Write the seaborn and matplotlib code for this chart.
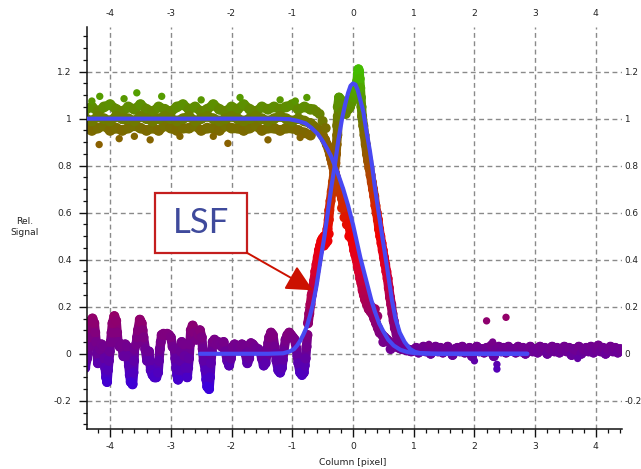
import numpy as np
import matplotlib
matplotlib.use("Agg")
import matplotlib.pyplot as plt
from matplotlib.colors import LinearSegmentedColormap, Normalize
from matplotlib.collections import LineCollection
from matplotlib.patches import Rectangle
from matplotlib.ticker import MultipleLocator
import seaborn as sns

# ---------------------------------------------------------------- data
# edge spread samples: flat plateau (three rows of samples per column position)
esf_flat_x = [-4.40, -4.30, -4.20, -4.10, -4.00, -3.90, -3.80, -3.70, -3.60, -3.50,
              -3.40, -3.30, -3.20, -3.10, -3.00, -2.90, -2.80, -2.70, -2.60, -2.50,
              -2.40, -2.30, -2.20, -2.10, -2.00, -1.90, -1.80, -1.70, -1.60, -1.50,
              -1.40, -1.30, -1.20, -1.10, -1.00, -0.90, -0.80, -0.70]
esf_flat_top = [1.04, 1.05, 1.03, 1.05, 1.06, 1.04, 1.03, 1.05, 1.04, 1.06,
                1.04, 1.03, 1.05, 1.04, 1.03, 1.05, 1.06, 1.04, 1.05, 1.03,
                1.04, 1.06, 1.04, 1.03, 1.05, 1.04, 1.06, 1.04, 1.03, 1.05,
                1.04, 1.05, 1.04, 1.05, 1.06, 1.04, 1.05, 1.04]
esf_flat_mid = [1.00, 0.99, 1.01, 1.00, 0.99, 1.01, 1.00, 1.00, 0.99, 1.01,
                1.00, 0.99, 1.00, 1.01, 1.00, 0.99, 1.00, 1.01, 0.99, 1.00,
                1.01, 1.00, 0.99, 1.00, 1.01, 1.00, 0.99, 1.00, 1.01, 1.00,
                0.99, 1.00, 1.01, 1.00, 0.99, 1.00, 0.99, 0.98]
esf_flat_bot = [0.96, 0.95, 0.96, 0.97, 0.95, 0.96, 0.95, 0.96, 0.97, 0.96,
                0.95, 0.96, 0.95, 0.97, 0.96, 0.95, 0.96, 0.96, 0.97, 0.95,
                0.96, 0.96, 0.95, 0.97, 0.96, 0.96, 0.95, 0.96, 0.97, 0.95,
                0.96, 0.96, 0.95, 0.96, 0.96, 0.95, 0.94, 0.93]

# edge spread samples: falling edge
esf_drop_x = [-0.65, -0.60, -0.55, -0.50, -0.46, -0.43, -0.40,
              -0.38, -0.36, -0.34, -0.32, -0.30, -0.28, -0.26, -0.24, -0.22, -0.20,
              -0.18, -0.16, -0.14, -0.12, -0.10, -0.08, -0.06, -0.04, -0.02, 0.00,
              0.02, 0.04, 0.06, 0.08, 0.10, 0.12, 0.14, 0.16, 0.18, 0.20,
              0.23, 0.26, 0.29, 0.32, 0.35, 0.38, 0.41, 0.44,
              0.48, 0.52, 0.56, 0.60, 0.64, 0.68, 0.72, 0.76, 0.80, 0.84, 0.88, 0.92, 0.96]
esf_drop_y = [0.97, 0.96, 0.95, 0.93, 0.91, 0.89, 0.87,
              0.85, 0.83, 0.81, 0.79, 0.77, 0.75, 0.73, 0.71, 0.70, 0.68,
              0.66, 0.64, 0.62, 0.60, 0.58, 0.56, 0.54, 0.51, 0.49, 0.47,
              0.44, 0.42, 0.40, 0.37, 0.35, 0.32, 0.30, 0.27, 0.25, 0.23,
              0.21, 0.19, 0.18, 0.17, 0.15, 0.13, 0.11, 0.09,
              0.08, 0.07, 0.06, 0.05, 0.04, 0.035, 0.03, 0.025, 0.02, 0.02, 0.015, 0.015, 0.01]
esf_side_x = [-0.65, -0.60, -0.55, -0.50, -0.45, -0.18, -0.14, -0.10, -0.06,
              0.30, 0.36, 0.40, 0.50, 0.62]
esf_side_y = [1.04, 1.03, 1.02, 0.99, 0.96, 0.62, 0.58, 0.55, 0.50,
              0.20, 0.19, 0.16, 0.05, 0.02]

# isolated edge spread samples (noise spikes)
esf_spot_x = [-4.30, -4.17, -4.18, -3.85, -3.77, -3.60, -3.56, -3.34, -3.15, -2.85,
              -2.50, -2.30, -2.06, -1.86, -1.40, -1.20, -0.95, -0.87, -0.76]
esf_spot_y = [1.075, 1.095, 0.89, 0.915, 1.085, 0.925, 1.11, 0.91, 1.095, 0.925,
              1.08, 0.925, 0.895, 1.09, 0.91, 1.08, 1.075, 0.92, 1.09]

# line spread samples: noisy baseline left of the edge
lsf_base_x = [-4.44, -4.41, -4.38, -4.365, -4.35, -4.335, -4.32, -4.29, -4.26, -4.245,
              -4.23, -4.215, -4.20, -4.17, -4.14, -4.11, -4.095, -4.08, -4.065, -4.05,
              -4.035, -4.02, -4.005, -3.99, -3.975, -3.96, -3.93, -3.90, -3.885, -3.87,
              -3.84, -3.81, -3.78, -3.75, -3.72, -3.705, -3.69, -3.675, -3.66, -3.63,
              -3.615, -3.605, -3.60, -3.57, -3.555, -3.54, -3.51, -3.48, -3.465, -3.45,
              -3.42, -3.39, -3.36, -3.345, -3.33, -3.30, -3.27, -3.24, -3.21, -3.195,
              -3.18, -3.165, -3.15, -3.12, -3.09, -3.06, -3.03, -3.00, -2.97, -2.94,
              -2.925, -2.91, -2.895, -2.88, -2.865, -2.85, -2.835, -2.82, -2.79, -2.775,
              -2.76, -2.73, -2.715, -2.70, -2.685, -2.67, -2.64, -2.61, -2.58, -2.55,
              -2.52, -2.49, -2.475, -2.46, -2.43, -2.415, -2.40, -2.37, -2.355, -2.34,
              -2.325, -2.31, -2.28, -2.25, -2.22, -2.19, -2.16, -2.13, -2.10, -2.07,
              -2.04, -2.01, -1.98, -1.95, -1.92, -1.89, -1.86, -1.83, -1.80, -1.77,
              -1.74, -1.71, -1.695, -1.68, -1.65, -1.62, -1.59, -1.56, -1.53, -1.50,
              -1.47, -1.44, -1.41, -1.395, -1.38, -1.35, -1.32, -1.29, -1.275, -1.26,
              -1.23, -1.20, -1.17, -1.155, -1.14, -1.11, -1.08, -1.05, -1.02, -0.99,
              -0.96, -0.93, -0.915, -0.90, -0.87, -0.84, -0.81, -0.795, -0.78, -0.765,
              -0.75]
lsf_base_y = [-0.05, -0.06, -0.02, 0.03, 0.07, 0.11, 0.14, 0.15, 0.13, 0.09,
              0.05, 0.00, -0.04, 0.02, 0.04, 0.03, -0.02, -0.06, -0.10, -0.12,
              -0.07, -0.03, 0.01, 0.05, 0.09, 0.13, 0.16, 0.14, 0.09, 0.05,
              0.03, 0.04, -0.01, 0.04, 0.03, -0.01, -0.05, -0.09, -0.12, -0.13,
              -0.08, -0.03, 0.02, 0.04, 0.07, 0.10, 0.145, 0.13, 0.10, 0.07,
              0.02, -0.03, 0.01, -0.03, -0.07, -0.09, -0.10, -0.10, -0.08, -0.03,
              0.02, 0.05, 0.08, 0.085, 0.08, 0.085, 0.08, 0.07, 0.03, 0.02,
              -0.02, -0.06, -0.09, -0.11, -0.07, -0.03, 0.01, 0.05, 0.04, -0.01,
              -0.06, -0.10, -0.06, -0.02, 0.04, 0.10, 0.12, 0.09, 0.06, 0.08,
              0.10, 0.07, 0.02, -0.03, -0.07, -0.11, -0.14, -0.15, -0.10, -0.04,
              0.01, 0.05, 0.06, 0.04, 0.05, 0.04, 0.03, 0.05, 0.01, -0.03,
              -0.05, -0.02, 0.03, 0.04, 0.03, 0.02, 0.03, 0.04, 0.035, 0.00,
              -0.04, -0.02, 0.015, 0.045, 0.04, 0.03, 0.02, 0.02, 0.01, -0.02,
              -0.05, -0.04, 0.02, 0.045, 0.07, 0.09, 0.08, 0.03, 0.00, -0.03,
              -0.07, -0.08, -0.06, -0.025, 0.01, 0.06, 0.08, 0.09, 0.08, 0.07,
              0.06, 0.02, -0.01, -0.04, -0.08, -0.09, -0.08, -0.05, -0.02, 0.03,
              0.08]

# line spread samples: the peak
lsf_peak_x = [-0.74, -0.72, -0.70, -0.68, -0.66, -0.64, -0.62, -0.60, -0.58, -0.56,
              -0.54, -0.52, -0.50, -0.47, -0.44, -0.42, -0.40, -0.39, -0.37, -0.35,
              -0.33, -0.31, -0.29, -0.28, -0.27, -0.26, -0.26, -0.25, -0.25, -0.23,
              -0.20, -0.17, -0.14, -0.11, -0.08, -0.05, -0.02, 0.01, 0.03, 0.05,
              0.07, 0.08, 0.09, 0.10, 0.11, 0.12, 0.13, 0.14, 0.15, 0.17,
              0.19, 0.21, 0.23, 0.25, 0.27, 0.29, 0.31, 0.33, 0.35, 0.37,
              0.39, 0.41, 0.43, 0.45, 0.47, 0.49, 0.51, 0.53, 0.55, 0.57,
              0.59, 0.61, 0.63, 0.65, 0.67, 0.69, 0.72, 0.75, 0.78, 0.81,
              0.85, 0.89, 0.93, 0.97]
lsf_peak_y = [0.13, 0.17, 0.21, 0.25, 0.28, 0.31, 0.35, 0.38, 0.41, 0.44,
              0.46, 0.48, 0.49, 0.50, 0.50, 0.53, 0.57, 0.61, 0.65, 0.69,
              0.73, 0.77, 0.81, 0.85, 0.89, 0.93, 0.97, 1.01, 1.05, 1.09,
              1.08, 1.06, 1.05, 1.04, 1.04, 1.05, 1.07, 1.09, 1.11, 1.13,
              1.16, 1.19, 1.21, 1.20, 1.17, 1.13, 1.09, 1.05, 1.01, 0.97,
              0.93, 0.89, 0.85, 0.82, 0.79, 0.76, 0.73, 0.70, 0.67, 0.63,
              0.60, 0.57, 0.53, 0.50, 0.47, 0.44, 0.41, 0.38, 0.35, 0.32,
              0.28, 0.24, 0.21, 0.17, 0.14, 0.11, 0.08, 0.06, 0.045, 0.035,
              0.025, 0.02, 0.015, 0.015]
lsf_side_x = [-0.48, -0.45, -0.42, -0.40, -0.33, -0.31, -0.22, -0.18, -0.12]
lsf_side_y = [0.46, 0.47, 0.48, 0.51, 0.70, 0.74, 1.06, 1.03, 1.02]

# line spread samples: flat tail right of the edge
tail_x = [1.00, 1.04, 1.08, 1.12, 1.16, 1.20, 1.24, 1.28, 1.32, 1.36,
          1.40, 1.44, 1.48, 1.52, 1.56, 1.60, 1.64, 1.68, 1.72, 1.76,
          1.80, 1.84, 1.88, 1.92, 1.96, 2.00, 2.04, 2.08, 2.12, 2.16,
          2.20, 2.24, 2.28, 2.32, 2.36, 2.40, 2.44, 2.48, 2.52, 2.56,
          2.60, 2.64, 2.68, 2.72, 2.76, 2.80, 2.84, 2.88, 2.92, 2.96,
          3.00, 3.04, 3.08, 3.12, 3.16, 3.20, 3.24, 3.28, 3.32, 3.36,
          3.40, 3.44, 3.48, 3.52, 3.56, 3.60, 3.64, 3.68, 3.72, 3.76,
          3.80, 3.84, 3.88, 3.92, 3.96, 4.00, 4.04, 4.08, 4.12, 4.16,
          4.20, 4.24, 4.28, 4.32, 4.36, 4.40]
tail_y = [0.015, 0.025, 0.005, 0.02, 0.03, 0.01, 0.025, 0.0, 0.02, 0.03,
          0.01, 0.025, 0.005, 0.02, 0.03, 0.015, -0.005, 0.02, 0.025, 0.01,
          0.03, 0.005, 0.02, 0.025, -0.01, 0.015, 0.03, 0.01, 0.02, 0.005,
          0.025, 0.01, 0.035, -0.01, 0.02, 0.03, 0.01, 0.025, 0.005, 0.03,
          0.015, 0.02, 0.005, 0.03, 0.01, 0.025, 0.0, 0.02, 0.03, 0.01,
          0.02, 0.005, 0.03, 0.015, 0.025, 0.0, 0.02, 0.03, 0.01, 0.025,
          0.005, 0.02, 0.03, 0.01, 0.025, -0.005, 0.02, 0.015, 0.03, 0.0,
          0.02, 0.025, 0.01, 0.03, 0.005, 0.02, 0.035, 0.01, 0.025, 0.0,
          0.02, 0.03, 0.01, 0.025, 0.005, 0.02]
tail_spot_x = [1.25, 2.00, 2.20, 2.30, 2.37, 2.37, 2.52, 3.70]
tail_spot_y = [0.04, -0.03, 0.14, 0.05, -0.045, -0.065, 0.155, -0.02]

# fitted curves
esf_fit_x = [-4.38, -3.0, -2.0, -1.3, -1.05, -0.90, -0.78, -0.68, -0.58, -0.50,
             -0.42, -0.36, -0.30, -0.24, -0.16, -0.08, 0.00, 0.06, 0.12, 0.18,
             0.24, 0.30, 0.36, 0.43, 0.50, 0.58, 0.67, 0.78, 0.90, 1.05,
             1.4, 1.9, 2.4, 2.87]
esf_fit_y = [1.0, 1.0, 1.0, 1.0, 0.998, 0.99, 0.98, 0.96, 0.935, 0.905,
             0.87, 0.84, 0.80, 0.76, 0.70, 0.63, 0.55, 0.48, 0.41, 0.35,
             0.29, 0.23, 0.18, 0.13, 0.095, 0.06, 0.035, 0.017, 0.007, 0.002,
             0.0, 0.0, 0.0, 0.0]
lsf_fit_x = [-2.52, -2.2, -1.8, -1.4, -1.15, -1.04, -0.97, -0.92, -0.87, -0.82,
             -0.76, -0.71, -0.66, -0.60, -0.54, -0.47, -0.41, -0.35, -0.30, -0.24,
             -0.18, -0.13, -0.08, -0.04, 0.00, 0.04, 0.08, 0.12, 0.17, 0.22,
             0.28, 0.32, 0.36, 0.40, 0.44, 0.50, 0.56, 0.60, 0.64, 0.70,
             0.77, 0.85, 0.94, 1.02, 1.10, 1.3, 1.6, 2.0, 2.4, 2.87]
lsf_fit_y = [0.0, 0.0, 0.0, 0.0, 0.002, 0.01, 0.02, 0.035, 0.055, 0.08,
             0.115, 0.16, 0.21, 0.29, 0.39, 0.50, 0.61, 0.72, 0.80, 0.91,
             1.0, 1.06, 1.11, 1.14, 1.15, 1.145, 1.12, 1.08, 1.03, 0.95,
             0.86, 0.79, 0.71, 0.64, 0.57, 0.47, 0.37, 0.30, 0.23, 0.15,
             0.09, 0.05, 0.02, 0.008, 0.003, 0.0, 0.0, 0.0, 0.0, 0.0]

x_ticks = [-4, -3, -2, -1, 0, 1, 2, 3, 4]
x_tick_labels = ['-4', '-3', '-2', '-1', '0', '1', '2', '3', '4']
y_ticks = [-0.2, 0.0, 0.2, 0.4, 0.6, 0.8, 1.0, 1.2]
y_tick_labels = ['-0.2', '0', '0.2', '0.4', '0.6', '0.8', '1', '1.2']

# ---------------------------------------------------------------- style
sns.set_theme(style="white")
plt.rcParams['font.family'] = ['DejaVu Sans']
plt.rcParams['axes.unicode_minus'] = False

# signal level -> colour (blue-violet baseline, red mid level, green plateau)
level_stops = [(-0.15, '#3a00dc'), (0.0, '#6a0098'), (0.15, '#92006a'),
               (0.35, '#d8002c'), (0.5, '#f00000'), (0.68, '#c83400'),
               (0.82, '#9c5400'), (0.95, '#7c6a00'), (1.05, '#5e8c00'),
               (1.2, '#44bc00')]
lo, hi = level_stops[0][0], level_stops[-1][0]
signal_cmap = LinearSegmentedColormap.from_list(
    'signal', [((v - lo) / (hi - lo), c) for v, c in level_stops])
level_norm = Normalize(lo, hi)

fig = plt.figure(figsize=(6.41, 4.69), dpi=100)
fig.patch.set_facecolor('white')
ax = fig.add_axes([87 / 641, 1 - 429 / 469, (622 - 87) / 641, (429 - 27) / 469])


def samples(xs, ys, size):
    sns.scatterplot(x=xs, y=ys, hue=ys, palette=signal_cmap, hue_norm=(lo, hi),
                    s=size, linewidth=0, edgecolor='none', legend=False,
                    ax=ax, zorder=2.2)


def trace(xs, ys, width):
    """Consecutive samples joined by a thick stroke coloured by signal level."""
    pts = np.column_stack([xs, ys])
    segs = np.stack([pts[:-1], pts[1:]], axis=1)
    level = (pts[:-1, 1] + pts[1:, 1]) / 2
    ax.add_collection(LineCollection(segs, colors=signal_cmap(level_norm(level)),
                                     linewidths=width, capstyle='round',
                                     joinstyle='round', zorder=2.1))


stroke = 6.8
band = 52
for row in (esf_flat_top, esf_flat_bot, esf_flat_mid):
    trace(esf_flat_x, row, stroke)
    samples(esf_flat_x, row, 60)
trace(esf_drop_x, esf_drop_y, stroke)
trace(lsf_base_x, lsf_base_y, stroke)
trace(lsf_peak_x, lsf_peak_y, stroke)
trace(tail_x, tail_y, stroke)
samples(esf_drop_x, esf_drop_y, band)
samples(esf_side_x, esf_side_y, band)
samples(lsf_base_x, lsf_base_y, band)
samples(lsf_peak_x, lsf_peak_y, band)
samples(lsf_side_x, lsf_side_y, band)
samples(tail_x, tail_y, band)
samples(esf_spot_x, esf_spot_y, 28)
samples(tail_spot_x, tail_spot_y, 28)

fit_color = '#4848f2'
sns.lineplot(x=esf_fit_x, y=esf_fit_y, sort=False, estimator=None,
             color=fit_color, lw=3.0, ax=ax, zorder=4)
sns.lineplot(x=lsf_fit_x, y=lsf_fit_y, sort=False, estimator=None,
             color=fit_color, lw=3.0, ax=ax, zorder=4)

# axes
ax.set_xlim(-4.38, 4.43)
ax.set_ylim(-0.32, 1.39)
ax.set_xticks(x_ticks)
ax.set_xticklabels(x_tick_labels)
ax.set_yticks(y_ticks)
ax.set_yticklabels(y_tick_labels)
ax.xaxis.set_minor_locator(MultipleLocator(0.2))
ax.yaxis.set_minor_locator(MultipleLocator(0.05))
ax.tick_params(which='both', bottom=True, left=True, top=False, right=False,
               direction='out', color='#111111')
ax.tick_params(which='major', length=6, width=1.0, labelsize=6.6,
               labelcolor='#222222')
ax.tick_params(which='minor', length=3, width=0.9)
ax.tick_params(axis='x', which='major', pad=3.5)
ax.tick_params(axis='y', which='major', pad=5)
for side in ('top', 'right'):
    ax.spines[side].set_visible(False)
for side in ('left', 'bottom'):
    ax.spines[side].set_color('#111111')
    ax.spines[side].set_linewidth(1.1)
ax.set_axisbelow(True)
ax.grid(True, which='major', color='#8a8a8a', lw=1.0, ls=(0, (3.5, 2.5)))
ax.set_xlabel('')
ax.set_ylabel('')

top_axis = ax.secondary_xaxis('top')
top_axis.set_xticks(x_ticks)
top_axis.set_xticklabels(x_tick_labels)
top_axis.tick_params(length=0, pad=6.5, labelsize=6.6, labelcolor='#222222')
top_axis.spines['top'].set_visible(False)

right_axis = ax.secondary_yaxis('right')
right_axis.set_yticks(y_ticks)
right_axis.set_yticklabels(y_tick_labels)
right_axis.tick_params(length=0, pad=1.5, labelsize=6.4, labelcolor='#222222')
right_axis.spines['right'].set_visible(False)

fig.text(25 / 641, 1 - 227 / 469, 'Rel.\nSignal', ha='center', va='center',
         fontsize=6.6, color='#222222', linespacing=1.3)
fig.text(353 / 641, 1 - 462 / 469, 'Column [pixel]', ha='center', va='center',
         fontsize=6.6, color='#222222')

# callout
ax.add_patch(Rectangle((-3.26, 0.43), 1.51, 0.255, facecolor='white',
                       edgecolor='#c41e1e', lw=1.6, zorder=6))
ax.text(-2.505, 0.5575, 'LSF', ha='center', va='center', fontsize=25,
        color='#3f4a9c', family=['Lato', 'DejaVu Sans'], zorder=7)
ax.annotate('', xy=(-0.66, 0.27), xytext=(-1.75, 0.43),
            arrowprops=dict(arrowstyle='-|>,head_length=0.9,head_width=0.45',
                            color='#cc1100', lw=1.4, shrinkA=0, shrinkB=0,
                            mutation_scale=18), zorder=6)

fig.savefig('out.png', dpi=100, facecolor='white')
